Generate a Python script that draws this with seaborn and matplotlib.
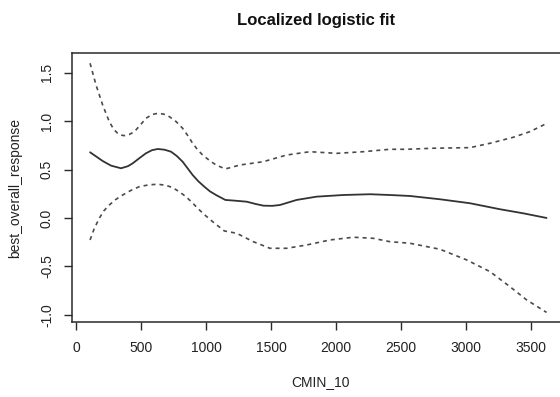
import numpy as np
import pandas as pd
import matplotlib
matplotlib.use("Agg")
import matplotlib.pyplot as plt
import seaborn as sns

# Fitted curve
fit_x = [108, 160, 205, 270, 346, 400, 436, 490, 538, 585, 628, 680, 731, 775, 820,
         860, 897, 940, 987, 1030, 1077, 1149, 1210, 1313, 1380, 1441, 1510, 1569,
         1697, 1851, 2056, 2262, 2415, 2569, 2800, 3031, 3262, 3441, 3620]
fit_y = [0.678, 0.630, 0.588, 0.540, 0.513, 0.535, 0.564, 0.620, 0.668, 0.700, 0.712,
         0.705, 0.684, 0.640, 0.581, 0.510, 0.444, 0.380, 0.323, 0.275, 0.237, 0.186,
         0.180, 0.168, 0.145, 0.127, 0.125, 0.134, 0.186, 0.220, 0.237, 0.245, 0.237,
         0.227, 0.193, 0.152, 0.090, 0.048, 0.000]

# Upper confidence band
upper_x = [108, 154, 205, 256, 290, 320, 345, 372, 410, 449, 495, 538, 585, 628, 675,
           718, 770, 820, 860, 897, 935, 974, 1030, 1077, 1149, 1262, 1441, 1621, 1800,
           2005, 2210, 2415, 2544, 2749, 3031, 3185, 3364, 3492, 3620]
upper_y = [1.597, 1.372, 1.166, 0.994, 0.915, 0.874, 0.855, 0.850, 0.862, 0.891, 0.960,
           1.029, 1.068, 1.080, 1.072, 1.046, 0.995, 0.926, 0.850, 0.771, 0.705, 0.650,
           0.590, 0.547, 0.506, 0.547, 0.581, 0.650, 0.684, 0.667, 0.684, 0.709, 0.709,
           0.720, 0.726, 0.771, 0.833, 0.891, 0.975]

# Lower confidence band
lower_x = [108, 140, 179, 215, 256, 305, 359, 420, 487, 560, 628, 690, 744, 795, 846,
           900, 949, 1000, 1051, 1141, 1236, 1364, 1492, 1621, 1774, 1954, 2133, 2287,
           2415, 2569, 2800, 3005, 3185, 3338, 3467, 3620]
lower_y = [-0.227, -0.110, -0.003, 0.075, 0.134, 0.190, 0.237, 0.283, 0.323, 0.342,
           0.348, 0.338, 0.313, 0.270, 0.220, 0.150, 0.083, 0.020, -0.038, -0.134,
           -0.158, -0.245, -0.313, -0.313, -0.279, -0.227, -0.199, -0.210, -0.245,
           -0.261, -0.323, -0.433, -0.554, -0.709, -0.846, -0.975]

x_ticks = [0, 500, 1000, 1500, 2000, 2500, 3000, 3500]
y_ticks = [-1.0, -0.5, 0.0, 0.5, 1.0, 1.5]

sns.set_style("white")
plt.rcParams["font.family"] = ["Liberation Sans", "DejaVu Sans"]

fig = plt.figure(figsize=(5.6, 3.97), dpi=100)
ax = fig.add_axes([72 / 560, 1 - 322 / 397, (568 - 72) / 560, (322 - 53) / 397])

ink = "#2a2a2a"
sns.lineplot(x=fit_x, y=fit_y, ax=ax, color="#333333", lw=1.3,
             estimator=None, sort=False)
sns.lineplot(x=upper_x, y=upper_y, ax=ax, color="#4a4a4a", lw=1.2,
             estimator=None, sort=False).lines[-1].set_dashes((2.4, 2.4))
sns.lineplot(x=lower_x, y=lower_y, ax=ax, color="#4a4a4a", lw=1.2,
             estimator=None, sort=False).lines[-1].set_dashes((2.4, 2.4))

ax.set_xlim(-31, 3785)
ax.set_ylim(-1.074, 1.703)

for s in ax.spines.values():
    s.set_visible(True)
    s.set_color(ink)
    s.set_linewidth(1.1)

ax.set_xticks(x_ticks)
ax.set_xticklabels([str(v) for v in x_ticks])
ax.set_yticks(y_ticks)
ax.set_yticklabels([f"{v:.1f}" for v in y_ticks], rotation=90, va="center")
ax.tick_params(axis="both", direction="out", length=6, width=1.0, color=ink,
               labelsize=10, labelcolor="#222222", bottom=True, left=True)
ax.tick_params(axis="x", pad=8)
ax.tick_params(axis="y", pad=7)

ax.set_xlabel("CMIN_10", fontsize=10, color="#222222", labelpad=14)
ax.set_ylabel("best_overall_response", fontsize=10, color="#222222", labelpad=13)
fig.text(316 / 560, 1 - 20 / 397, "Localized logistic fit", ha="center", va="center",
         fontsize=12, fontweight="bold", color="#111111")

fig.savefig("out.png", dpi=100, facecolor="white")
